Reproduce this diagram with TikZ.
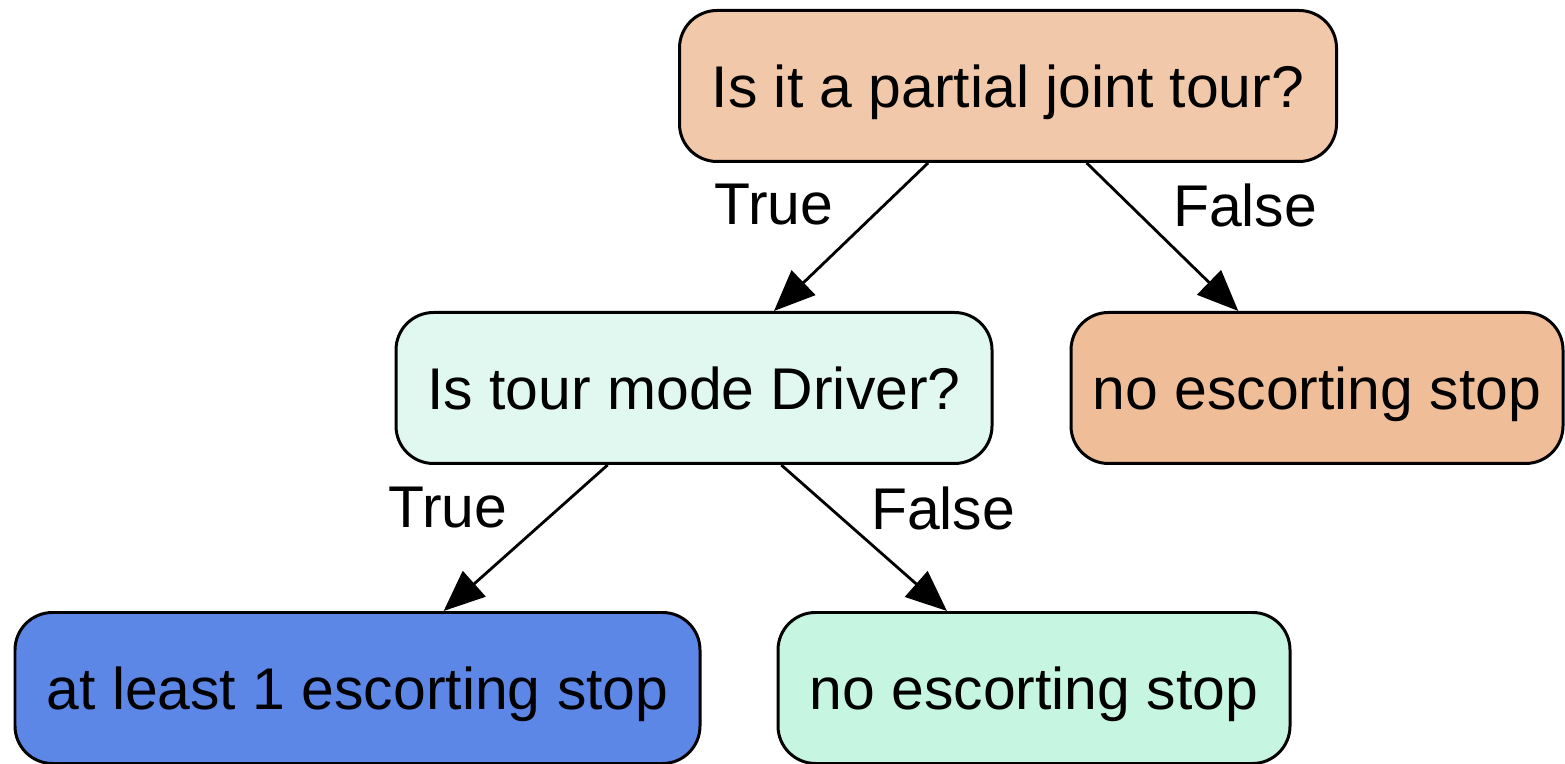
\documentclass[tikz,border=0pt]{standalone}
\usepackage{fontspec}
\setmainfont{Liberation Sans}
\usepackage{xcolor}
\usetikzlibrary{arrows.meta}

\definecolor{peach}{HTML}{F2C8AA}
\definecolor{apricot}{HTML}{EFBE98}
\definecolor{mint}{HTML}{E0F8EF}
\definecolor{seafoam}{HTML}{C6F5E1}
\definecolor{cornflower}{HTML}{5C87E6}

\tikzset{
    leaf/.style={draw=black, line width=1.7pt, rounded corners=0.75cm,
        minimum height=3.02cm, inner sep=0pt, text depth=0pt,
        font=\fontsize{33.5}{40}\selectfont},
    branch/.style={-{Triangle[length=0.82cm,width=0.68cm]}, line width=1.6pt},
    cond/.style={font=\fontsize{33.5}{40}\selectfont}
}

\begin{document}
\begin{tikzpicture}
\useasboundingbox (0,0) rectangle (31.3,15.28);

% Root question
\node[leaf, fill=peach, minimum width=13.14cm] (joint) at (20.16,13.56) {Is it a partial joint tour?};

% Second level
\node[leaf, fill=mint, minimum width=11.92cm] (driver) at (13.88,7.52) {Is tour mode Driver?};
\node[leaf, fill=apricot, minimum width=9.84cm] (noescA) at (26.34,7.52) {no escorting stop};

% Leaves
\node[leaf, fill=cornflower, minimum width=13.7cm] (atleast) at (7.15,1.52) {at least 1 escorting stop};
\node[leaf, fill=seafoam, minimum width=10.24cm] (noescB) at (20.68,1.52) {no escorting stop};

% Branches
\draw[branch] (joint) -- (driver);
\draw[branch] (joint) -- (noescA);
\draw[branch] (driver) -- (atleast);
\draw[branch] (driver) -- (noescB);

% Branch labels
\node[cond] (jtrue) at (15.48,11.18) {True};
\node[cond] (jfalse) at (24.9,11.18) {False};
\node[cond] (dtrue) at (8.96,5.12) {True};
\node[cond] (dfalse) at (18.86,5.12) {False};
\end{tikzpicture}
\end{document}
